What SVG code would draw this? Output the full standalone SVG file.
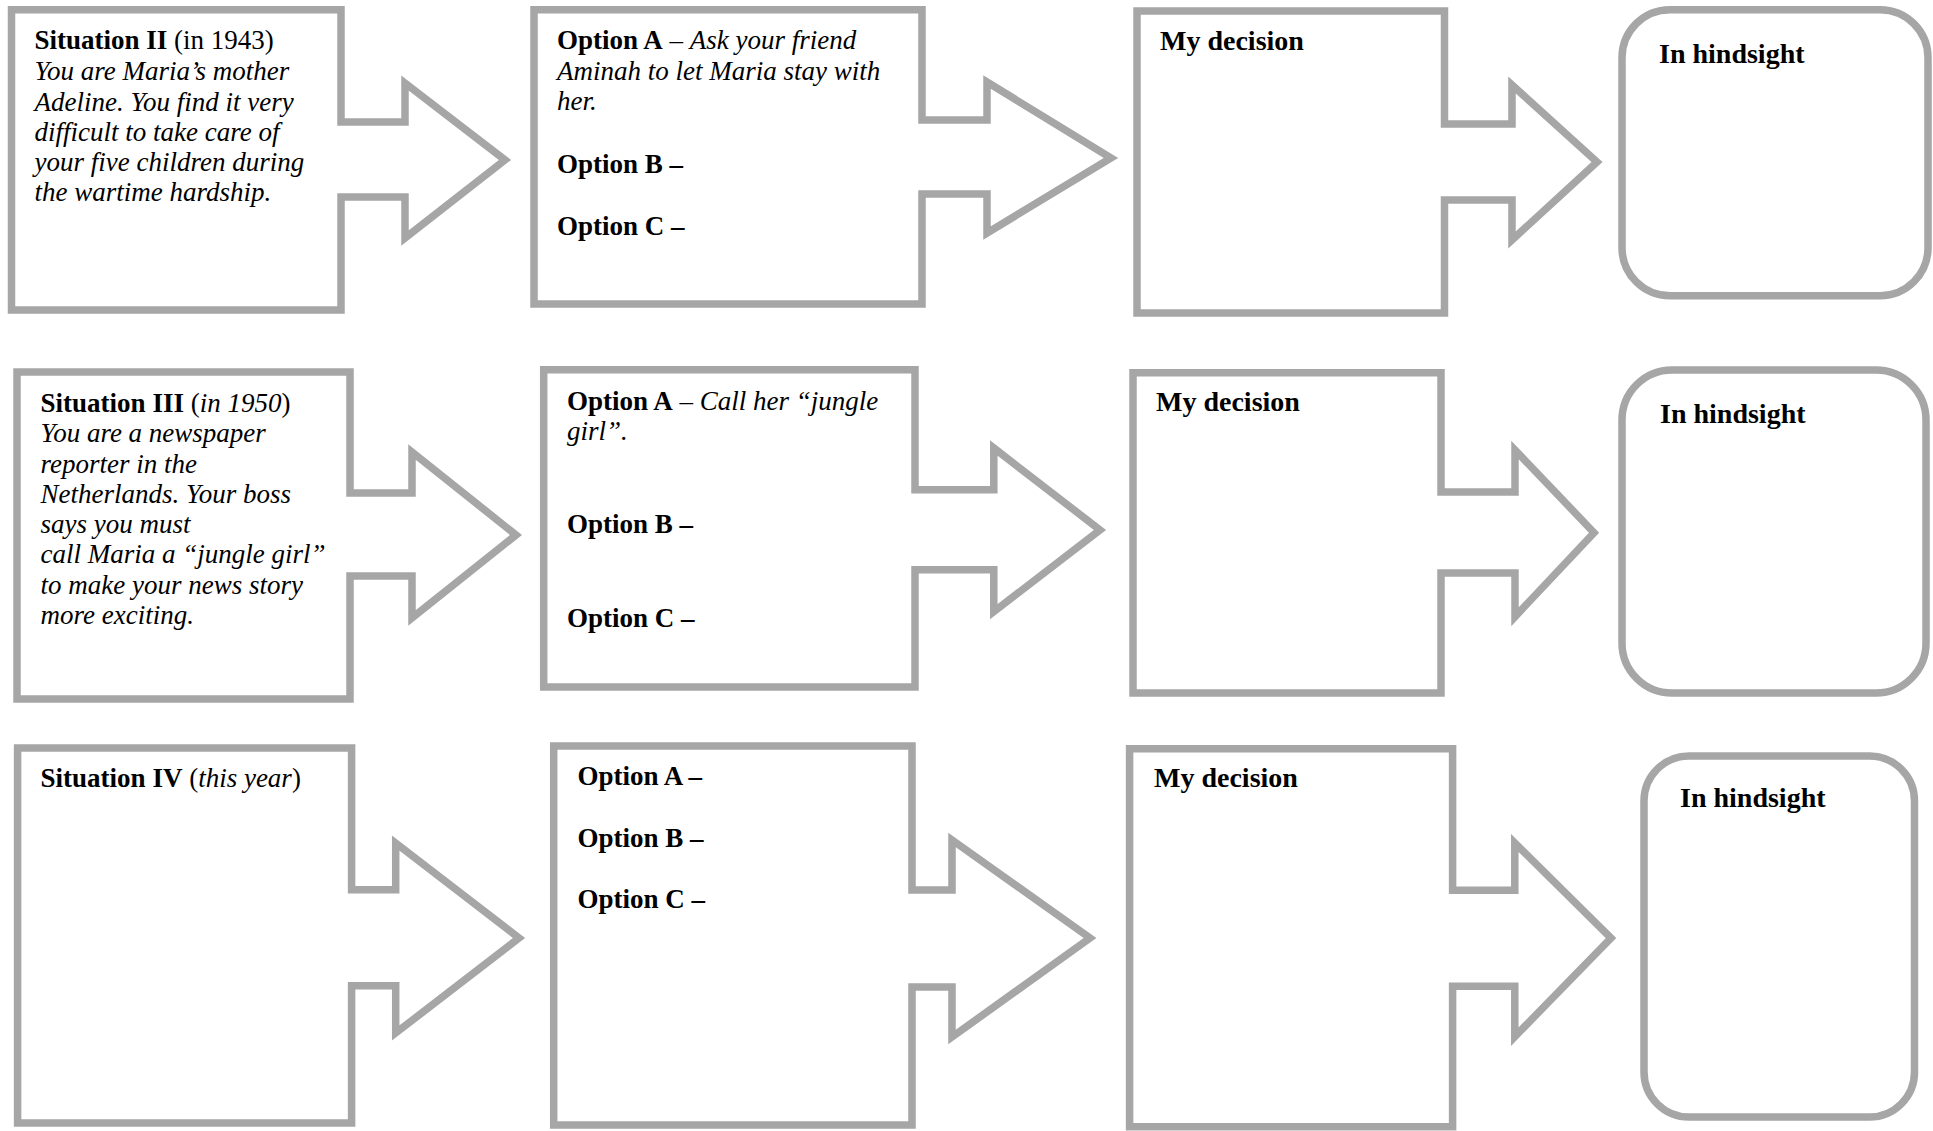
<svg xmlns="http://www.w3.org/2000/svg" width="1933" height="1131" viewBox="0 0 1933 1131">
<style>
.shape{fill:#fff;stroke:#a6a6a6;stroke-width:7.5;stroke-linejoin:miter;stroke-miterlimit:10}
.t{font-family:"Liberation Serif","Times New Roman",serif;font-size:27px;fill:#000}
.b{font-weight:bold}
.i{font-style:italic}
.h{font-family:"Liberation Serif","Times New Roman",serif;font-size:28px;font-weight:bold;fill:#000}
</style>
<rect width="1933" height="1131" fill="#fff"/>
<g id="connectors"></g>

<!-- Row 1 -->
<g id="situation2">
<path class="shape" d="M11.5,9.7 H341 V122 H405 V83 L505,160 L405,238 V197 H341 V310 H11.5 Z"/>
<text class="t" x="34.5" y="49"><tspan class="b">Situation II</tspan> (in 1943)</text>
<text class="t i" x="34.5" y="80">You are Maria’s mother</text>
<text class="t i" x="34.5" y="110.5">Adeline. You find it very</text>
<text class="t i" x="34.5" y="141">difficult to take care of</text>
<text class="t i" x="34.5" y="171">your five children during</text>
<text class="t i" x="34.5" y="201">the wartime hardship.</text>
</g>
<g id="options1">
<path class="shape" d="M534,9.7 H922 V120 H987 V82 L1111,158 L987,233 V194 H922 V304 H534 Z"/>
<text class="t" x="557" y="49"><tspan class="b">Option A</tspan> – <tspan class="i">Ask your friend</tspan></text>
<text class="t i" x="557" y="80">Aminah to let Maria stay with</text>
<text class="t i" x="557" y="110">her.</text>
<text class="t b" x="557" y="173">Option B –</text>
<text class="t b" x="557" y="235">Option C –</text>
</g>
<g id="decision1">
<path class="shape" d="M1137,11 H1444.5 V124 H1512 V85 L1597,162 L1512,240 V200 H1444.5 V313 H1137 Z"/>
<text class="h" x="1160" y="50">My decision</text>
</g>
<g id="hindsight1">
<rect class="shape" x="1622" y="9.7" width="306" height="286" rx="48" ry="48"/>
<text class="h" x="1659" y="63">In hindsight</text>
</g>

<!-- Row 2 -->
<g id="situation3">
<path class="shape" d="M17,372 H350 V493 H412 V452 L516,535 L412,618 V576 H350 V699 H17 Z"/>
<text class="t" x="40.6" y="412"><tspan class="b">Situation III</tspan> (<tspan class="i">in 1950</tspan>)</text>
<text class="t i" x="40.6" y="442">You are a newspaper</text>
<text class="t i" x="40.6" y="472.5">reporter in the</text>
<text class="t i" x="40.6" y="503">Netherlands. Your boss</text>
<text class="t i" x="40.6" y="533">says you must</text>
<text class="t i" x="40.6" y="563">call Maria a “jungle girl”</text>
<text class="t i" x="40.6" y="594">to make your news story</text>
<text class="t i" x="40.6" y="624">more exciting.</text>
</g>
<g id="options2">
<path class="shape" d="M543.7,369.7 H915 V489.7 H993.8 V448 L1100,530 L993.8,611.7 V569.7 H915 V687 H543.7 Z"/>
<text class="t" x="567" y="410"><tspan class="b">Option A</tspan> – <tspan class="i">Call her “jungle</tspan></text>
<text class="t i" x="567" y="440">girl”.</text>
<text class="t b" x="567" y="533">Option B –</text>
<text class="t b" x="567" y="627">Option C –</text>
</g>
<g id="decision2">
<path class="shape" d="M1133,372.8 H1441 V492 H1515 V450 L1594,532.7 L1515,616.7 V573 H1441 V693 H1133 Z"/>
<text class="h" x="1156" y="411">My decision</text>
</g>
<g id="hindsight2">
<rect class="shape" x="1622" y="370" width="304" height="323" rx="50" ry="50"/>
<text class="h" x="1660" y="423">In hindsight</text>
</g>

<!-- Row 3 -->
<g id="situation4">
<path class="shape" d="M17.6,748 H351.6 V889.7 H395.7 V843 L519,938 L395.7,1033 V985.8 H351.6 V1123 H17.6 Z"/>
<text class="t" x="40.6" y="787"><tspan class="b">Situation IV</tspan> (<tspan class="i">this year</tspan>)</text>
</g>
<g id="options3">
<path class="shape" d="M553.7,746 H912 V890 H952 V840 L1090,938 L952,1037 V987 H912 V1125 H553.7 Z"/>
<text class="t b" x="577.4" y="785">Option A –</text>
<text class="t b" x="577.4" y="846.7">Option B –</text>
<text class="t b" x="577.4" y="908.3">Option C –</text>
</g>
<g id="decision3">
<path class="shape" d="M1129.6,748.8 H1452.6 V890.3 H1514.8 V843 L1611,938 L1514.8,1036.7 V986.3 H1452.6 V1126.7 H1129.6 Z"/>
<text class="h" x="1154" y="787">My decision</text>
</g>
<g id="hindsight3">
<rect class="shape" x="1644" y="756" width="270.5" height="361" rx="45" ry="45"/>
<text class="h" x="1680" y="807">In hindsight</text>
</g>
</svg>
